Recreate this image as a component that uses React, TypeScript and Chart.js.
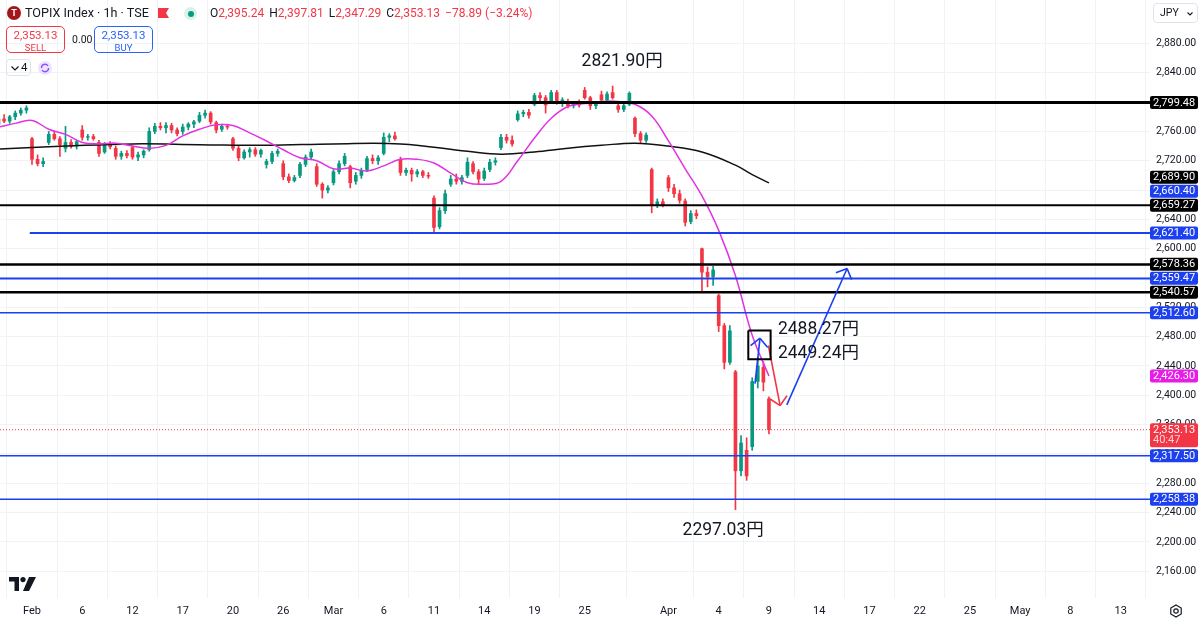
import { useEffect, useRef } from 'react';
import { Chart, registerables } from 'chart.js';

Chart.register(...registerables);

// Candles: three bars per trading day, Jan 30 .. Apr 9 (bar index = x value)
const opens = [
  2770, 2777, 2774, 2780, 2785, 2789, 2750, 2722, 2716, 2745, 2756, 2750, 2737, 2745, 2740, 2762, 2752, 2753, 2745, 2732,
  2742, 2737, 2726, 2730, 2738, 2725, 2728, 2735, 2760, 2767, 2765, 2768, 2762, 2760, 2766, 2770, 2774, 2782, 2785, 2772,
  2763, 2767, 2750, 2737, 2724, 2732, 2735, 2729, 2715, 2719, 2730, 2716, 2698, 2693, 2700, 2715, 2725, 2712, 2688, 2680,
  2690, 2705, 2716, 2712, 2692, 2700, 2708, 2723, 2720, 2730, 2752, 2754, 2722, 2704, 2707, 2702, 2705, 2700, 2669, 2630,
  2652, 2688, 2695, 2692, 2700, 2716, 2705, 2696, 2708, 2718, 2738, 2752, 2748, 2776, 2784, 2786, 2797, 2809, 2806, 2800,
  2813, 2800, 2800, 2795, 2799, 2816, 2806, 2795, 2810, 2803, 2813, 2795, 2790, 2797, 2778, 2757, 2748, 2708, 2660, 2664,
  2697, 2683, 2675, 2665, 2637, 2648, 2600, 2568, 2562, 2536, 2495, 2445, 2432, 2297, 2325, 2330, 2419, 2438, 2395.24,
];
const highs = [
  2779, 2783, 2782, 2788, 2792, 2795, 2752, 2728, 2724, 2760, 2760, 2753, 2767, 2749, 2748, 2768, 2756, 2756, 2748, 2745,
  2746, 2740, 2733, 2734, 2740, 2732, 2735, 2765, 2771, 2772, 2772, 2771, 2765, 2770, 2772, 2775, 2786, 2789, 2787, 2774,
  2770, 2770, 2752, 2740, 2735, 2738, 2738, 2736, 2722, 2733, 2736, 2720, 2702, 2700, 2718, 2728, 2736, 2716, 2690, 2686,
  2708, 2720, 2730, 2714, 2704, 2710, 2726, 2728, 2727, 2758, 2757, 2759, 2725, 2710, 2710, 2708, 2707, 2704, 2672, 2656,
  2680, 2700, 2702, 2700, 2724, 2719, 2708, 2710, 2722, 2724, 2756, 2756, 2754, 2788, 2789, 2790, 2812, 2813, 2809, 2816,
  2816, 2806, 2804, 2801, 2803, 2820, 2808, 2801, 2815, 2814, 2821.9, 2800, 2798, 2814, 2780, 2760, 2758, 2710, 2668, 2668,
  2700, 2688, 2680, 2668, 2652, 2653, 2601, 2575, 2576, 2538, 2498, 2495, 2434, 2345, 2342, 2424, 2452, 2446, 2397.81,
];
const lows = [
  2767, 2772, 2771, 2776, 2782, 2785, 2715, 2713, 2712, 2742, 2748, 2726, 2732, 2737, 2736, 2748, 2748, 2748, 2726, 2730,
  2736, 2722, 2722, 2724, 2722, 2720, 2724, 2733, 2757, 2762, 2758, 2758, 2754, 2756, 2762, 2765, 2772, 2778, 2770, 2758,
  2760, 2763, 2734, 2720, 2722, 2725, 2726, 2725, 2710, 2716, 2726, 2694, 2690, 2691, 2697, 2712, 2722, 2685, 2669, 2676,
  2687, 2702, 2713, 2683, 2688, 2696, 2705, 2716, 2715, 2728, 2746, 2748, 2700, 2700, 2692, 2698, 2697, 2696, 2622, 2627,
  2648, 2685, 2688, 2688, 2697, 2702, 2688, 2693, 2705, 2714, 2735, 2744, 2740, 2774, 2780, 2778, 2795, 2800, 2785, 2798,
  2797, 2794, 2792, 2792, 2793, 2804, 2790, 2791, 2800, 2800, 2804, 2786, 2787, 2795, 2753, 2744, 2745, 2649, 2656, 2657,
  2678, 2670, 2662, 2631, 2634, 2641, 2540, 2548, 2550, 2487, 2436, 2442, 2244, 2290, 2284, 2325, 2410, 2406, 2347.29,
];
const closes = [
  2777, 2774, 2780, 2785, 2789, 2792, 2722, 2716, 2719, 2756, 2750, 2742, 2745, 2740, 2746, 2752, 2753, 2750, 2730, 2742,
  2739, 2726, 2730, 2727, 2725, 2728, 2733, 2760, 2767, 2765, 2768, 2762, 2757, 2766, 2770, 2773, 2782, 2785, 2773, 2762,
  2767, 2766, 2737, 2724, 2732, 2735, 2729, 2734, 2719, 2730, 2733, 2698, 2693, 2697, 2715, 2725, 2732, 2688, 2680, 2683,
  2705, 2716, 2726, 2690, 2700, 2707, 2723, 2720, 2724, 2752, 2754, 2750, 2704, 2707, 2702, 2705, 2700, 2699, 2629, 2652,
  2675, 2695, 2692, 2697, 2718, 2705, 2695, 2706, 2718, 2720, 2752, 2748, 2743, 2784, 2786, 2782, 2809, 2806, 2796, 2813,
  2800, 2803, 2795, 2799, 2796, 2806, 2795, 2798, 2803, 2811, 2806, 2790, 2795, 2812, 2757, 2748, 2755, 2660, 2664, 2660,
  2683, 2675, 2666, 2636, 2648, 2645, 2568, 2562, 2571, 2495, 2445, 2488, 2297, 2335, 2290, 2419, 2440, 2418, 2353.13,
];

// Moving averages
const maFastBars = [
  0, 3, 6, 9, 12, 15, 18, 21, 24, 27, 30, 33, 36, 39, 42, 45, 48, 51, 54, 57, 60, 63, 66, 69,
  72, 75, 78, 81, 84, 87, 90, 93, 96, 99, 102, 105, 108, 111, 114, 117, 120, 123, 126, 129, 132, 135, 138,
];
const maFast = [
  2766, 2771, 2775, 2763, 2756, 2745, 2743, 2744, 2740, 2737, 2741, 2754, 2763, 2769, 2768, 2758, 2747, 2735, 2724, 2720,
  2709, 2710, 2706, 2713, 2722, 2722, 2717, 2703, 2690, 2688, 2692, 2720, 2751, 2778, 2794, 2798, 2801, 2801, 2797, 2781,
  2747, 2709, 2672, 2625, 2563, 2482, 2426.3,
];
const maSlowBars = [0, 12, 24, 36, 48, 60, 72, 84, 90, 96, 102, 108, 114, 120, 126, 132, 135, 138];
const maSlow = [2736, 2740, 2743, 2742, 2741, 2743, 2743, 2733, 2729, 2732, 2737, 2741, 2744, 2740, 2732, 2714, 2701, 2689.9];

// Axis ticks
const tickBars = [6, 15, 24, 33, 42, 51, 60, 69, 78, 87, 96, 105, 120, 129, 138, 147, 156, 165, 174, 183, 192, 201];
const tickLabels = ['Feb', '6', '12', '17', '20', '26', 'Mar', '6', '11', '14', '19', '25', 'Apr', '4', '9', '14', '17', '22', '25', 'May', '8', '13'];
const priceTicks = [
  2160, 2200, 2240, 2280, 2320, 2360, 2400, 2440, 2480, 2520, 2560, 2600, 2640, 2680, 2720, 2760, 2800, 2840, 2880,
];

// Drawn horizontal levels
const levelPrices = [2799.48, 2659.27, 2621.4, 2578.36, 2559.47, 2540.57, 2512.6, 2317.5, 2258.38];
const levelKinds = ['black', 'black', 'blue', 'black', 'blue', 'black', 'blue', 'blue', 'blue'];
const levelFromBar = [0, 0, 5.6, 0, 0, 0, 0, 0, 0];
const lastPrice = 2353.13;

// Price-scale badges
const badgePrices = [2799.48, 2689.9, 2660.4, 2659.27, 2621.4, 2578.36, 2559.47, 2540.57, 2512.6, 2426.3, 2353.13, 2317.5, 2258.38];
const badgeKinds = ['black', 'black', 'blue', 'black', 'blue', 'black', 'blue', 'black', 'blue', 'magenta', 'red', 'blue', 'blue'];
const badgeSubText = ['', '', '', '', '', '', '', '', '', '', '40:47', '', ''];

// Drawings: box and arrows
const boxBars = [134.3, 138.3];
const boxPrices = [2488.27, 2449.24];
const upArrowBars = [135.5, 136.4];
const upArrowPrices = [2416, 2478];
const downArrowBars = [137.9, 140];
const downArrowPrices = [2468, 2386];
const targetArrowBars = [141.2, 152];
const targetArrowPrices = [2387, 2573];

// Text notes
const noteTexts = ['2821.90円', '2297.03円', '2488.27円', '2449.24円'];
const noteBars = [111.7, 129.8, 139.6, 139.6];
const notePrices = [2855.5, 2215.7, 2490.1, 2456.2];
const noteAlign = ['center', 'center', 'left', 'left'];

const FONT = 'Roboto, "Noto Sans", "Noto Sans CJK JP", sans-serif';
const UP = '#089981';
const DOWN = '#f23645';
const BLUE = '#1c3ff0';
const BLACK = '#000000';
const MAGENTA = '#e232e2';
const TEXT = '#131722';
const GRID = '#f0f2f6';
const KIND_COLOR: Record<string, string> = { black: BLACK, blue: BLUE, magenta: '#e81ce8', red: DOWN };
const LEVEL_WIDTH = [3, 2, 2, 2.5, 2, 2.5, 1.5, 1.5, 1.5];

const X_MIN = 0.27;
const X_MAX = 206.25;

const fmt = (v: number) => v.toLocaleString('en-US', { minimumFractionDigits: 2, maximumFractionDigits: 2 });

const overlayPlugin = {
  id: 'overlay',
  afterDatasetsDraw(chart: any) {
    const { ctx, chartArea, scales } = chart;
    ctx.save();
    ctx.beginPath();
    ctx.rect(chartArea.left, chartArea.top, chartArea.right - chartArea.left, chartArea.bottom - chartArea.top);
    ctx.clip();
    chart.data.datasets.forEach((ds: any, i: number) => {
      if (!ds.arrowHead) return;
      const pts = chart.getDatasetMeta(i).data;
      const a = pts[pts.length - 2];
      const b = pts[pts.length - 1];
      const ang = Math.atan2(b.y - a.y, b.x - a.x);
      ctx.strokeStyle = ds.borderColor;
      ctx.lineWidth = ds.borderWidth;
      ctx.beginPath();
      for (const s of [-1, 1]) {
        ctx.moveTo(b.x, b.y);
        ctx.lineTo(b.x - 12 * Math.cos(ang + s * 0.8), b.y - 12 * Math.sin(ang + s * 0.8));
      }
      ctx.stroke();
    });
    ctx.fillStyle = TEXT;
    ctx.font = `17.5px ${FONT}`;
    ctx.textBaseline = 'middle';
    noteTexts.forEach((t, k) => {
      ctx.textAlign = noteAlign[k];
      ctx.fillText(t, scales.x.getPixelForValue(noteBars[k]), scales.y.getPixelForValue(notePrices[k]));
    });
    ctx.restore();
  },
  afterDraw(chart: any) {
    const { ctx, chartArea, scales } = chart;
    const left = chartArea.right;
    const items = badgePrices.map((p, k) => ({
      k,
      y: scales.y.getPixelForValue(p),
      h: badgeSubText[k] ? 24 : 13,
      top: 0,
    }));
    items.sort((a, b) => b.y - a.y);
    let prevTop = Infinity;
    for (const it of items) {
      let top = it.y - 6.5;
      if (top + it.h > prevTop - 1) top = prevTop - 1 - it.h;
      it.top = top;
      prevTop = top;
    }
    ctx.save();
    ctx.textBaseline = 'middle';
    ctx.textAlign = 'left';
    for (const it of items) {
      ctx.fillStyle = KIND_COLOR[badgeKinds[it.k]];
      ctx.beginPath();
      ctx.roundRect(left, it.top, 48, it.h, 2);
      ctx.fill();
      ctx.fillStyle = '#ffffff';
      ctx.font = `11px ${FONT}`;
      ctx.fillText(fmt(badgePrices[it.k]), left + 3, it.top + 6.8);
      if (badgeSubText[it.k]) {
        ctx.fillStyle = 'rgba(255,255,255,0.8)';
        ctx.fillText(badgeSubText[it.k], left + 3, it.top + 17.5);
      }
    }
    ctx.restore();
  },
};

function App() {
  const chartRef = useRef<HTMLCanvasElement | null>(null);

  useEffect(() => {
    const ctx = chartRef.current?.getContext('2d');
    if (!ctx) return;

    const candleColors = closes.map((c, i) => (c >= opens[i] ? UP : DOWN));
    const flatLine = { type: 'line', pointRadius: 0, fill: false, tension: 0 };

    const levelSets = levelPrices.map((p, k) => ({
      ...flatLine,
      order: 3,
      data: [{ x: levelFromBar[k] || X_MIN, y: p }, { x: X_MAX, y: p }],
      borderColor: KIND_COLOR[levelKinds[k]],
      borderWidth: LEVEL_WIDTH[k],
    }));

    const arrow = (bars: number[], prices: number[], color: string) => ({
      ...flatLine,
      order: 1,
      arrowHead: true,
      data: bars.map((b, i) => ({ x: b, y: prices[i] })),
      borderColor: color,
      borderWidth: 1.6,
    });

    const chart = new Chart(ctx, {
      type: 'bar',
      data: {
        datasets: [
          {
            type: 'bar',
            order: 11,
            grouped: false,
            barThickness: 1,
            data: lows.map((l, i) => ({ x: i, y: [l, highs[i]] })),
            backgroundColor: candleColors,
          },
          {
            type: 'bar',
            order: 10,
            grouped: false,
            barThickness: 3,
            data: opens.map((o, i) => ({ x: i, y: [o, closes[i]] })),
            backgroundColor: candleColors,
          },
          {
            ...flatLine,
            order: 5,
            tension: 0.4,
            data: maSlowBars.map((b, i) => ({ x: b, y: maSlow[i] })),
            borderColor: '#111111',
            borderWidth: 1.5,
          },
          {
            ...flatLine,
            order: 4,
            tension: 0.4,
            data: maFastBars.map((b, i) => ({ x: b, y: maFast[i] })),
            borderColor: MAGENTA,
            borderWidth: 1.5,
          },
          ...levelSets,
          {
            ...flatLine,
            order: 3,
            data: [{ x: X_MIN, y: lastPrice }, { x: X_MAX, y: lastPrice }],
            borderColor: DOWN,
            borderWidth: 1,
            borderDash: [1, 2],
          },
          {
            ...flatLine,
            order: 1,
            data: [
              { x: boxBars[0], y: boxPrices[0] },
              { x: boxBars[1], y: boxPrices[0] },
              { x: boxBars[1], y: boxPrices[1] },
              { x: boxBars[0], y: boxPrices[1] },
              { x: boxBars[0], y: boxPrices[0] },
            ],
            borderColor: BLACK,
            borderWidth: 2,
          },
          arrow(upArrowBars, upArrowPrices, BLUE),
          arrow(downArrowBars, downArrowPrices, DOWN),
          arrow(targetArrowBars, targetArrowPrices, BLUE),
        ] as any,
      },
      options: {
        animation: false,
        responsive: true,
        maintainAspectRatio: false,
        layout: { padding: 0 },
        plugins: { legend: { display: false }, tooltip: { enabled: false } },
        scales: {
          x: {
            type: 'linear',
            min: X_MIN,
            max: X_MAX,
            offset: false,
            afterBuildTicks: (s: any) => {
              s.ticks = tickBars.map((v) => ({ value: v }));
            },
            afterFit: (s: any) => {
              s.height = 24;
              s.paddingLeft = 0;
              s.paddingRight = 0;
            },
            ticks: {
              autoSkip: false,
              maxRotation: 0,
              padding: 7,
              color: TEXT,
              font: { family: FONT, size: 11 },
              callback: (_v: any, idx: number) => tickLabels[idx] ?? '',
            },
            grid: { color: GRID, drawTicks: false },
            border: { display: false },
          },
          y: {
            type: 'linear',
            position: 'right',
            min: 2123.5,
            max: 2939.3,
            afterBuildTicks: (s: any) => {
              s.ticks = priceTicks.map((v) => ({ value: v }));
            },
            afterFit: (s: any) => {
              s.width = 50;
              s.paddingTop = 0;
              s.paddingBottom = 0;
            },
            ticks: {
              padding: 6,
              color: TEXT,
              font: { family: FONT, size: 10.5 },
              callback: (v: any) => fmt(Number(v)),
            },
            grid: { color: GRID, drawTicks: false },
            border: { display: false },
          },
        },
      } as any,
      plugins: [overlayPlugin as any],
    });

    return () => {
      chart.destroy();
    };
  }, []);

  const box = (extra: any) => ({ position: 'absolute' as const, boxSizing: 'border-box' as const, ...extra });

  return (
    <div style={{ position: 'fixed', left: 0, top: 0, width: 1200, height: 622, background: '#fff', overflow: 'hidden', fontFamily: FONT, color: TEXT }}>
      <div style={{ position: 'absolute', left: 0, top: 0, width: 1200, height: 622 }}>
        <canvas ref={chartRef}></canvas>
      </div>

      {/* header */}
      <div style={box({ left: 7, top: 6, width: 14, height: 14, borderRadius: 7, background: '#a3161a', color: '#fff', fontSize: 9, fontWeight: 700, textAlign: 'center', lineHeight: '14px' })}>T</div>
      <div style={box({ left: 25, top: 4, fontSize: 12.6, whiteSpace: 'nowrap', lineHeight: '18px' })}>TOPIX Index · 1h · TSE</div>
      <svg style={{ position: 'absolute', left: 158, top: 8 }} width="11" height="10">
        <path d="M0 0 H11 L8 5 L11 10 H0 Z" fill={DOWN} />
      </svg>
      <div style={box({ left: 184, top: 7, width: 13, height: 13, borderRadius: 7, background: '#d9f2ea' })}>
        <div style={box({ left: 3.5, top: 3.5, width: 6, height: 6, borderRadius: 3, background: UP })}></div>
      </div>
      <div style={box({ left: 210, top: 5, fontSize: 12, whiteSpace: 'nowrap', lineHeight: '16px' })}>
        O<span style={{ color: DOWN }}>2,395.24</span>
        <span style={{ marginLeft: 5 }}>H</span><span style={{ color: DOWN }}>2,397.81</span>
        <span style={{ marginLeft: 5 }}>L</span><span style={{ color: DOWN }}>2,347.29</span>
        <span style={{ marginLeft: 5 }}>C</span><span style={{ color: DOWN }}>2,353.13</span>
        <span style={{ marginLeft: 5, color: DOWN }}>−78.89 (−3.24%)</span>
      </div>

      <div style={box({ left: 6, top: 26, width: 59, height: 27, border: `1px solid ${DOWN}`, borderRadius: 5, color: DOWN, textAlign: 'center', paddingTop: 2 })}>
        <div style={{ fontSize: 11.5, lineHeight: '13px' }}>2,353.13</div>
        <div style={{ fontSize: 9.5, lineHeight: '11px' }}>SELL</div>
      </div>
      <div style={box({ left: 72, top: 33, fontSize: 10.5, lineHeight: '13px' })}>0.00</div>
      <div style={box({ left: 94, top: 26, width: 59, height: 27, border: '1px solid #2962ff', borderRadius: 5, color: '#2962ff', textAlign: 'center', paddingTop: 2 })}>
        <div style={{ fontSize: 11.5, lineHeight: '13px' }}>2,353.13</div>
        <div style={{ fontSize: 9.5, lineHeight: '11px' }}>BUY</div>
      </div>

      <div style={box({ left: 6, top: 59, width: 25, height: 17, border: '1px solid #e0e3eb', borderRadius: 4, fontSize: 11.5, lineHeight: '15px' })}>
        <svg style={{ position: 'absolute', left: 4, top: 6 }} width="8" height="5">
          <path d="M0.5 0.5 L4 4 L7.5 0.5" stroke={TEXT} strokeWidth="1.2" fill="none" />
        </svg>
        <span style={{ position: 'absolute', left: 14 }}>4</span>
      </div>
      <div style={box({ left: 38, top: 61, width: 14, height: 14, borderRadius: 7, background: '#ece3ff' })}>
        <svg style={{ position: 'absolute', left: 2, top: 2 }} width="10" height="10">
          <path d="M1.5 5 A3.5 3.5 0 0 1 8 3" stroke="#8a4dff" strokeWidth="1.4" fill="none" />
          <path d="M8.5 5 A3.5 3.5 0 0 1 2 7" stroke="#8a4dff" strokeWidth="1.4" fill="none" />
        </svg>
      </div>

      <div style={box({ left: 1153, top: 3, width: 45, height: 20, border: '1px solid #e0e3eb', borderRadius: 4, fontSize: 10.5, lineHeight: '18px', paddingLeft: 6 })}>
        JPY
        <svg style={{ position: 'absolute', left: 33, top: 8 }} width="6" height="4">
          <path d="M0.5 0.5 L3 3 L5.5 0.5" stroke={TEXT} strokeWidth="1.1" fill="none" />
        </svg>
      </div>

      {/* footer marks */}
      <svg style={{ position: 'absolute', left: 9, top: 577 }} width="27" height="14">
        <rect x="0" y="0" width="10" height="4.5" fill={TEXT} />
        <rect x="5.5" y="0" width="4.5" height="14" fill={TEXT} />
        <circle cx="14" cy="2.6" r="2.6" fill={TEXT} />
        <path d="M20 0 H27 L20 14 H14 Z" fill={TEXT} />
      </svg>
      <svg style={{ position: 'absolute', left: 1169, top: 604 }} width="14" height="14">
        <polygon points="7,1 12.2,4 12.2,10 7,13 1.8,10 1.8,4" stroke={TEXT} strokeWidth="1.2" fill="none" />
        <circle cx="7" cy="7" r="2.2" stroke={TEXT} strokeWidth="1.2" fill="none" />
      </svg>
    </div>
  );
}

export default App;
